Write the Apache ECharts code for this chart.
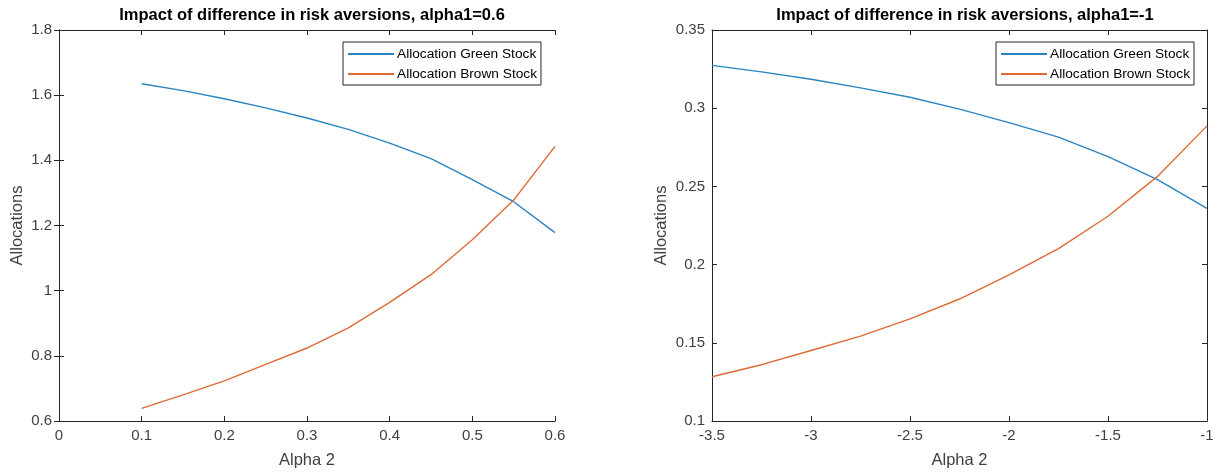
<!DOCTYPE html>
<html>
<head>
<meta charset="utf-8">
<title>Impact of difference in risk aversions</title>
<script src="https://cdn.jsdelivr.net/npm/echarts@6/dist/echarts.min.js"></script>
<style>
  html, body { margin: 0; padding: 0; background: #fff; }
  #chart { width: 1222px; height: 474px; }
</style>
</head>
<body>
<div id="chart"></div>
<script>
// left panel, alpha1 = 0.6
const alphaLeft = [0.1, 0.15, 0.2, 0.25, 0.3, 0.35, 0.4, 0.45, 0.5, 0.55, 0.6]
const greenLeft = [1.635, 1.614, 1.589, 1.561, 1.530, 1.495, 1.453, 1.405, 1.341, 1.273, 1.178]
const brownLeft = [0.639, 0.680, 0.723, 0.774, 0.824, 0.886, 0.964, 1.049, 1.156, 1.278, 1.443]

// right panel, alpha1 = -1
const alphaRight = [-3.5, -3.25, -3, -2.75, -2.5, -2.25, -2, -1.75, -1.5, -1.25, -1]
const greenRight = [0.3274, 0.3232, 0.3185, 0.313, 0.307, 0.2994, 0.2908, 0.2815, 0.2691, 0.2543, 0.236]
const brownRight = [0.1283, 0.136, 0.1451, 0.1543, 0.1653, 0.178, 0.1934, 0.2102, 0.2309, 0.2564, 0.2887]

const titles = ['Impact of difference in risk aversions, alpha1=0.6', 'Impact of difference in risk aversions, alpha1=-1']
const names = ['Allocation Green Stock', 'Allocation Brown Stock']
const colors = ['#2a84c2', '#de6a35']

const axisColor = '#262626'
const labelColor = '#404040'
const font = 'Arial, "Liberation Sans", Helvetica, sans-serif'

const pair = (xs, ys) => xs.map((x, i) => [x, ys[i]])

const grids = [
  { left: 59, top: 30, width: 496, height: 392 },
  { left: 712, top: 30, width: 495, height: 392 }
]

const tick = { show: true, inside: true, length: 5, lineStyle: { color: axisColor } }
const border = { show: true, lineStyle: { color: axisColor } }

function bottomAxis(gridIndex, min, max, interval) {
  return {
    type: 'value', gridIndex, min, max, interval,
    name: 'Alpha 2', nameLocation: 'middle', nameGap: 31,
    nameTextStyle: { color: labelColor, fontSize: 16.5, fontFamily: font },
    axisLine: border,
    axisTick: tick,
    axisLabel: { color: labelColor, fontSize: 15, fontFamily: font, margin: 7 },
    splitLine: { show: false }
  }
}

function topAxis(gridIndex, min, max, interval) {
  return {
    type: 'value', gridIndex, min, max, interval, position: 'top',
    axisLine: border,
    axisTick: tick,
    axisLabel: { show: false },
    splitLine: { show: false }
  }
}

function leftAxis(gridIndex, min, max, interval, nameGap) {
  return {
    type: 'value', gridIndex, min, max, interval,
    name: 'Allocations', nameLocation: 'middle', nameGap,
    nameTextStyle: { color: labelColor, fontSize: 16.5, fontFamily: font },
    axisLine: border,
    axisTick: tick,
    axisLabel: { color: labelColor, fontSize: 15, fontFamily: font, margin: 7 },
    splitLine: { show: false }
  }
}

function rightAxis(gridIndex, min, max, interval) {
  return {
    type: 'value', gridIndex, min, max, interval, position: 'right',
    axisLine: border,
    axisTick: tick,
    axisLabel: { show: false },
    splitLine: { show: false }
  }
}

function legend(left) {
  return {
    left, top: 42,
    orient: 'vertical',
    data: names,
    icon: 'rect',
    itemWidth: 46, itemHeight: 2, itemGap: 4,
    padding: [4, 4, 3, 5],
    borderColor: axisColor, borderWidth: 1,
    backgroundColor: '#fff',
    selectedMode: false,
    textStyle: { color: '#000', fontSize: 13.7, fontFamily: font, lineHeight: 16, padding: [0, 0, 0, -2] }
  }
}

function line(name, color, data, idx) {
  return {
    type: 'line', name, data,
    xAxisIndex: idx, yAxisIndex: idx,
    showSymbol: false, symbol: 'none',
    lineStyle: { color, width: 1.4 },
    itemStyle: { color },
    animation: false
  }
}

const chart = echarts.init(document.getElementById('chart'))
chart.setOption({
  animation: false,
  title: [
    { text: titles[0], left: 307, top: 2, textAlign: 'center',
      textStyle: { fontSize: 16.5, fontWeight: 'bold', color: '#000', fontFamily: font } },
    { text: titles[1], left: 960, top: 2, textAlign: 'center',
      textStyle: { fontSize: 16.5, fontWeight: 'bold', color: '#000', fontFamily: font } }
  ],
  legend: [legend(343), legend(996)],
  grid: grids,
  xAxis: [
    bottomAxis(0, 0, 0.6, 0.1),
    bottomAxis(1, -3.5, -1, 0.5),
    topAxis(0, 0, 0.6, 0.1),
    topAxis(1, -3.5, -1, 0.5)
  ],
  yAxis: [
    leftAxis(0, 0.6, 1.8, 0.2, 33),
    leftAxis(1, 0.1, 0.35, 0.05, 42),
    rightAxis(0, 0.6, 1.8, 0.2),
    rightAxis(1, 0.1, 0.35, 0.05)
  ],
  series: [
    line(names[0], colors[0], pair(alphaLeft, greenLeft), 0),
    line(names[1], colors[1], pair(alphaLeft, brownLeft), 0),
    line(names[0], colors[0], pair(alphaRight, greenRight), 1),
    line(names[1], colors[1], pair(alphaRight, brownRight), 1)
  ]
})
</script>
</body>
</html>
